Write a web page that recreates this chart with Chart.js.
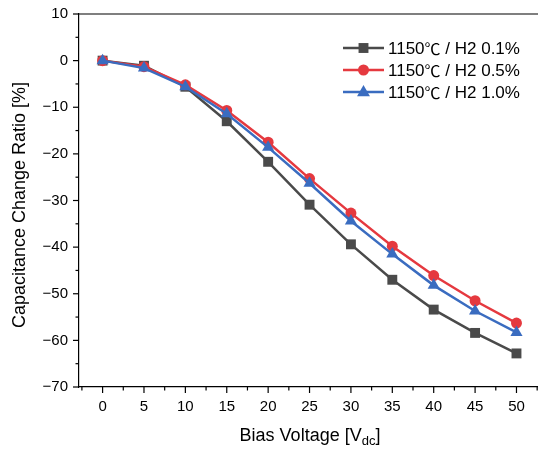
<!DOCTYPE html>
<html lang="en">
    <head>
        <meta charset="UTF-8">
        <title>Capacitance Change Ratio vs Bias Voltage</title>
        <script src="https://cdn.jsdelivr.net/npm/chart.js"></script>
        <style>
            html, body {
                margin: 0;
                padding: 0;
                background: #ffffff;
                overflow: hidden;
            }

            .chart-container {
                position: relative;
                width: 538px;
                height: 450px;
            }

            #chart {
                display: block;
            }
        </style>
    </head>
    <body>
        <div class="chart-container">
            <canvas id="chart"></canvas>
        </div>

        <script>
            const voltages = [0, 5, 10, 15, 20, 25, 30, 35, 40, 45, 50];
            const seriesNames = ['1150℃ / H2 0.1%', '1150℃ / H2 0.5%', '1150℃ / H2 1.0%'];
            const h2_01 = [0, -1.1, -5.6, -13.0, -21.7, -30.9, -39.4, -47.0, -53.4, -58.4, -62.8];
            const h2_05 = [0, -1.3, -5.2, -10.7, -17.5, -25.3, -32.7, -39.8, -46.1, -51.5, -56.3];
            const h2_10 = [0, -1.6, -5.6, -11.4, -18.6, -26.3, -34.4, -41.5, -48.2, -53.7, -58.3];
            const xTicks = [0, 5, 10, 15, 20, 25, 30, 35, 40, 45, 50];
            const yTicks = [-70, -60, -50, -40, -30, -20, -10, 0, 10];

            const FONT = "'Liberation Sans', Arial, sans-serif";
            const CJK = "'Noto Sans CJK SC', sans-serif";
            const colors = ['#4a4a4a', '#e5393f', '#3a6cc0'];
            const styles = ['rect', 'circle', 'triangle'];
            const radii = [7, 5.5, 7];

            function toPoints(values) {
                return values.map((v, i) => ({ x: voltages[i], y: v }));
            }

            function marker(ctx, style, x, y, r) {
                ctx.beginPath();
                if (style === 'rect') {
                    const s = Math.SQRT1_2 * r;
                    ctx.rect(x - s, y - s, 2 * s, 2 * s);
                } else if (style === 'circle') {
                    ctx.arc(x, y, r, 0, Math.PI * 2);
                } else {
                    ctx.moveTo(x, y - r);
                    ctx.lineTo(x + r * 0.92, y + r * 0.6);
                    ctx.lineTo(x - r * 0.92, y + r * 0.6);
                    ctx.closePath();
                }
                ctx.fill();
            }

            // legend text: the degree sign is drawn with the CJK font, like the original
            function legendText(ctx, text, x, y) {
                const parts = text.split('℃');
                const f = '17px ' + FONT;
                ctx.font = f;
                ctx.fillText(parts[0], x, y);
                x += ctx.measureText(parts[0]).width;
                ctx.font = '16px ' + CJK;
                ctx.fillText('℃', x, y);
                x += ctx.measureText('℃').width;
                ctx.font = f;
                ctx.fillText(parts[1], x, y);
            }

            const decorPlugin = {
                id: 'decor',
                afterDraw(chart) {
                    const ctx = chart.ctx;
                    const area = chart.chartArea;
                    const xs = chart.scales.x;
                    const ys = chart.scales.y;
                    ctx.save();
                    ctx.strokeStyle = '#000';
                    ctx.lineWidth = 1.2;

                    // top frame line
                    ctx.beginPath();
                    ctx.moveTo(area.left, area.top);
                    ctx.lineTo(area.right, area.top);
                    ctx.stroke();

                    // x ticks
                    for (let v = -2.5; v <= 52.5; v += 2.5) {
                        const px = xs.getPixelForValue(v);
                        if (px < area.left || px > area.right) continue;
                        const len = (v % 5 === 0) ? 6 : 3.5;
                        ctx.beginPath();
                        ctx.moveTo(px, area.bottom);
                        ctx.lineTo(px, area.bottom + len);
                        ctx.stroke();
                    }
                    // y ticks
                    for (let v = -70; v <= 10; v += 5) {
                        const py = ys.getPixelForValue(v);
                        const len = (v % 10 === 0) ? 6 : 3.5;
                        ctx.beginPath();
                        ctx.moveTo(area.left, py);
                        ctx.lineTo(area.left - len, py);
                        ctx.stroke();
                    }

                    // tick labels
                    ctx.fillStyle = '#000';
                    ctx.font = '15px ' + FONT;
                    ctx.textBaseline = 'middle';
                    ctx.textAlign = 'center';
                    xTicks.forEach(v => {
                        ctx.fillText(String(v), xs.getPixelForValue(v), 407);
                    });
                    ctx.textAlign = 'right';
                    yTicks.forEach(v => {
                        ctx.fillText(String(v).replace('-', '\u2212'), 68, ys.getPixelForValue(v));
                    });

                    // axis titles
                    const big = '18px ' + FONT;
                    const small = '13px ' + FONT;
                    const partA = 'Bias Voltage [V';
                    const partB = 'dc';
                    const partC = ']';
                    ctx.font = big;
                    const wA = ctx.measureText(partA).width;
                    const wC = ctx.measureText(partC).width;
                    ctx.font = small;
                    const wB = ctx.measureText(partB).width;
                    let tx = 310 - (wA + wB + wC) / 2;
                    const ty = 436;
                    ctx.textAlign = 'left';
                    ctx.font = big;
                    ctx.fillText(partA, tx, ty);
                    tx += wA;
                    ctx.font = small;
                    ctx.fillText(partB, tx, ty + 5);
                    tx += wB;
                    ctx.font = big;
                    ctx.fillText(partC, tx, ty);

                    ctx.save();
                    ctx.translate(20, 205);
                    ctx.rotate(-Math.PI / 2);
                    ctx.textAlign = 'center';
                    ctx.font = big;
                    ctx.fillText('Capacitance Change Ratio [%]', 0, 0);
                    ctx.restore();

                    // legend
                    ctx.textAlign = 'left';
                    seriesNames.forEach((name, i) => {
                        const ly = 48 + i * 22;
                        ctx.strokeStyle = colors[i];
                        ctx.fillStyle = colors[i];
                        ctx.lineWidth = 2.5;
                        ctx.beginPath();
                        ctx.moveTo(343, ly);
                        ctx.lineTo(384, ly);
                        ctx.stroke();
                        marker(ctx, styles[i], 363.5, ly, radii[i]);
                        ctx.fillStyle = '#000';
                        legendText(ctx, name, 388, ly + 1);
                    });
                    ctx.restore();
                }
            };

            const datasets = [h2_01, h2_05, h2_10].map((values, i) => ({
                label: seriesNames[i],
                data: toPoints(values),
                borderColor: colors[i],
                backgroundColor: colors[i],
                borderWidth: 2.5,
                pointStyle: styles[i],
                pointRadius: radii[i],
                pointHoverRadius: radii[i],
                pointBorderWidth: 0,
                order: 3 - i,
                tension: 0
            }));

            new Chart(document.getElementById('chart'), {
                type: 'line',
                data: { datasets },
                plugins: [decorPlugin],
                options: {
                    responsive: true,
                    maintainAspectRatio: false,
                    animation: false,
                    layout: {
                        autoPadding: false,
                        padding: { top: 14, right: 0, left: 0, bottom: 0 }
                    },
                    plugins: {
                        legend: { display: false },
                        tooltip: { enabled: false }
                    },
                    scales: {
                        x: {
                            type: 'linear',
                            min: -2.85,
                            max: 52.6,
                            afterFit: scale => { scale.height = 63; },
                            grid: { display: false },
                            border: { display: true, color: '#000', width: 1.2 },
                            ticks: { display: false }
                        },
                        y: {
                            min: -70,
                            max: 10,
                            afterFit: scale => { scale.width = 79; },
                            grid: { display: false },
                            border: { display: true, color: '#000', width: 1.2 },
                            ticks: { display: false }
                        }
                    }
                }
            });
        </script>
    </body>
</html>
